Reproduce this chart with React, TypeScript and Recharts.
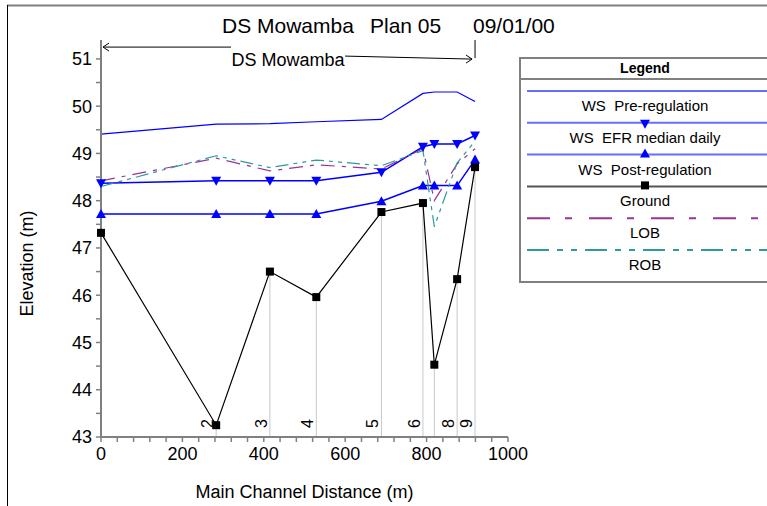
import { ComposedChart, Line, Scatter, XAxis, YAxis, ReferenceLine, Legend, Label } from 'recharts';

// river stations along the reach, upstream (0 m) to downstream
const stations = ['1', '2', '3', '4', '5', '6', '7', '8', '9'];
const stationTags = ['', '2', '3', '4', '5', '6', '', '8', '9'];
const distance = [0, 283, 415, 529, 689, 791, 819, 875, 919];

// elevations (m)
const wsPre = [49.41, 49.62, 49.63, 49.67, 49.72, 50.27, 50.3, 50.3, 50.1];
const wsEfr = [48.37, 48.42, 48.42, 48.42, 48.6, 49.14, 49.2, 49.2, 49.38];
const wsPost = [47.72, 47.72, 47.72, 47.72, 47.99, 48.32, 48.32, 48.32, 48.87];
const ground = [47.32, 43.25, 46.5, 45.96, 47.76, 47.95, 44.53, 46.34, 48.71];
const lob = [48.42, 48.9, 48.63, 48.76, 48.67, 49.1, 48.0, 48.78, 49.1];
const rob = [48.3, 48.95, 48.7, 48.86, 48.74, 49.06, 47.45, 48.8, 49.26];

const xTicks = [0, 40, 80, 120, 160, 200, 240, 280, 320, 360, 400, 440, 480, 520, 560, 600, 640, 680, 720, 760, 800, 840, 880, 920, 960, 1000];
const yTicks = [43, 43.5, 44, 44.5, 45, 45.5, 46, 46.5, 47, 47.5, 48, 48.5, 49, 49.5, 50, 50.5, 51];

const reachName = 'DS Mowamba';
const reachLevel = 51.25;

const FONT = '"Liberation Sans", Arial, Helvetica, sans-serif';
const BLUE = '#0000ff';
const LOB_COLOR = '#993399';
const ROB_COLOR = '#2e9b9b';
const AXIS = '#808080';

// legend rows in series order
const legendOrder = ['pre', 'efr', 'post', 'ground', 'lob', 'rob'];
const legendLook: Record<string, { mark: string; stroke: string; dash?: string }> = {
  pre: { mark: 'none', stroke: '#6b6bff' },
  efr: { mark: 'down', stroke: '#6b6bff' },
  post: { mark: 'up', stroke: '#6b6bff' },
  ground: { mark: 'square', stroke: '#555' },
  lob: { mark: 'none', stroke: LOB_COLOR, dash: '23 15 7 17' },
  rob: { mark: 'none', stroke: ROB_COLOR, dash: '22 8 6 8 6 8' },
};

const downTri = (cx: number, cy: number, key?: string) => (
  <polygon key={key} points={`${cx - 5},${cy - 4} ${cx + 5},${cy - 4} ${cx},${cy + 5}`} fill={BLUE} />
);
const upTri = (cx: number, cy: number, key?: string) => (
  <polygon key={key} points={`${cx - 5},${cy + 4} ${cx + 5},${cy + 4} ${cx},${cy - 5}`} fill={BLUE} />
);
const square = (cx: number, cy: number, key?: string) => (
  <rect key={key} x={cx - 4} y={cy - 4} width={8} height={8} fill="#000" />
);

const LegendBox = ({ payload }: any) => {
  const items = (payload || [])
    .filter((p: any) => p.type !== 'none' && legendLook[String(p.dataKey)])
    .sort((a: any, b: any) => legendOrder.indexOf(String(a.dataKey)) - legendOrder.indexOf(String(b.dataKey)));
  return (
    <svg width={248} height={226} style={{ display: 'block', fontFamily: FONT }}>
      <rect x={1} y={1} width={262} height={224} fill="#fff" stroke={AXIS} strokeWidth={2} />
      <text x={126} y={16} textAnchor="middle" fontSize={14} fontWeight="bold" fill="#000">Legend</text>
      <line x1={0} x2={248} y1={22} y2={22} stroke={AXIS} strokeWidth={2} />
      {items.map((it: any, i: number) => {
        const key = String(it.dataKey);
        const look = legendLook[key];
        const ly = 34 + i * 31.8;
        return (
          <g key={key}>
            <line x1={8} x2={248} y1={ly} y2={ly} stroke={look.stroke} strokeWidth={2} strokeDasharray={look.dash} />
            {look.mark === 'down' && downTri(126, ly + 1)}
            {look.mark === 'up' && upTri(126, ly - 1)}
            {look.mark === 'square' && square(126, ly - 1)}
            <text x={126} y={ly + 20} textAnchor="middle" fontSize={15} fill="#000" style={{ whiteSpace: 'pre' }}>
              {it.value}
            </text>
          </g>
        );
      })}
    </svg>
  );
};

// reach bracket with arrows and the reach name above the profile
const ReachBracket = (p: any) => {
  const { x1, y1, x2 } = p;
  const mid = (x1 + x2) / 2;
  return (
    <g stroke="#000" strokeWidth={1} fill="none">
      <line x1={x1 + 2} y1={y1} x2={mid - 57} y2={y1} />
      <polyline points={`${x1 + 8},${y1 - 4} ${x1 + 2},${y1} ${x1 + 8},${y1 + 4}`} />
      <line x1={mid + 57} y1={y1 + 9} x2={x2 - 3} y2={y1 + 12} />
      <polyline points={`${x2 - 9},${y1 + 8} ${x2 - 3},${y1 + 12} ${x2 - 9},${y1 + 16}`} />
      <line x1={x2} y1={y1 - 7} x2={x2} y2={y1 + 11} />
      <text x={mid} y={y1 + 19} textAnchor="middle" fontSize={18} fill="#000" stroke="none">{reachName}</text>
    </g>
  );
};

const StationTag = (p: any) => {
  const tag = p.payload?.tag;
  if (!tag) return <g />;
  const x = p.cx - 3;
  const y = p.cy - 9;
  return (
    <text x={x} y={y} transform={`rotate(-90 ${x} ${y})`} fontSize={16} fill="#000">{tag}</text>
  );
};

const XTitle = ({ viewBox }: any) => (
  <text x={viewBox.x + viewBox.width / 2} y={viewBox.y + 61} textAnchor="middle" fontSize={18} fill="#000">
    Main Channel Distance (m)
  </text>
);

const YTitle = ({ viewBox }: any) => {
  const cx = viewBox.x - 8;
  const cy = viewBox.y + viewBox.height / 2 + 25;
  return (
    <text x={cx} y={cy} transform={`rotate(-90 ${cx} ${cy})`} textAnchor="middle" fontSize={18} fill="#000">
      Elevation (m)
    </text>
  );
};

export default function App() {
  const rows = stations.map((s, i) => ({
    station: s,
    dist: distance[i],
    pre: wsPre[i],
    efr: wsEfr[i],
    post: wsPost[i],
    ground: ground[i],
    lob: lob[i],
    rob: rob[i],
  }));
  const tagRows = stations.map((s, i) => ({ station: s, dist: distance[i], base: 43, tag: stationTags[i] }));

  return (
    <div style={{ position: 'absolute', left: 0, top: 0, width: 767, height: 506, background: '#fff', fontFamily: FONT }}>
      <ComposedChart width={767} height={506} data={rows} margin={{ top: 40, right: 259, bottom: 39, left: 41 }}>
        <XAxis
          dataKey="dist"
          type="number"
          domain={[0, 1000]}
          ticks={xTicks}
          interval={0}
          tickFormatter={(v: number) => (v % 200 === 0 ? String(v) : '')}
          tick={{ fill: '#000', fontSize: 18 }}
          tickSize={5}
          tickMargin={5}
          height={30}
          axisLine={{ stroke: AXIS, strokeWidth: 2 }}
          tickLine={{ stroke: AXIS, strokeWidth: 1.5 }}
        >
          <Label content={XTitle} />
        </XAxis>
        <YAxis
          type="number"
          domain={[43, 51.4]}
          ticks={yTicks}
          interval={0}
          allowDataOverflow
          tickFormatter={(v: number) => (Number.isInteger(v) ? String(v) : '')}
          tick={{ fill: '#000', fontSize: 18 }}
          tickSize={5}
          tickMargin={4}
          width={60}
          axisLine={{ stroke: AXIS, strokeWidth: 2 }}
          tickLine={{ stroke: AXIS, strokeWidth: 1.5 }}
        >
          <Label content={YTitle} />
        </YAxis>

        {distance.map((d, i) => (
          <ReferenceLine
            key={`st-${stations[i]}`}
            segment={[{ x: d, y: 43 }, { x: d, y: ground[i] }]}
            stroke="#c8c8c8"
            strokeWidth={1}
          />
        ))}
        <ReferenceLine
          segment={[{ x: distance[0], y: reachLevel }, { x: distance[distance.length - 1], y: reachLevel }]}
          shape={ReachBracket}
        />

        <Line type="linear" dataKey="pre" name="WS  Pre-regulation" stroke={BLUE} strokeWidth={1.2} dot={false} isAnimationActive={false} />
        <Line
          type="linear"
          dataKey="efr"
          name="WS  EFR median daily"
          stroke={BLUE}
          strokeWidth={1.5}
          dot={(p: any) => downTri(p.cx, p.cy, `efr-${p.index}`)}
          activeDot={false}
          isAnimationActive={false}
        />
        <Line
          type="linear"
          dataKey="post"
          name="WS  Post-regulation"
          stroke={BLUE}
          strokeWidth={1.5}
          dot={(p: any) => upTri(p.cx, p.cy, `post-${p.index}`)}
          activeDot={false}
          isAnimationActive={false}
        />
        <Line
          type="linear"
          dataKey="ground"
          name="Ground"
          stroke="#000"
          strokeWidth={1.2}
          dot={(p: any) => square(p.cx, p.cy, `gr-${p.index}`)}
          activeDot={false}
          isAnimationActive={false}
        />
        <Line type="linear" dataKey="lob" name="LOB" stroke={LOB_COLOR} strokeWidth={1.2} strokeDasharray="14 7 4 7" dot={false} isAnimationActive={false} />
        <Line type="linear" dataKey="rob" name="ROB" stroke={ROB_COLOR} strokeWidth={1.2} strokeDasharray="13 5 4 5 4 5" dot={false} isAnimationActive={false} />

        <Scatter data={tagRows} dataKey="base" legendType="none" shape={StationTag} isAnimationActive={false} />

        <Legend
          content={LegendBox}
          layout="horizontal"
          align="center"
          verticalAlign="middle"
          wrapperStyle={{ left: 519, top: 57, width: 248, height: 226 }}
        />
      </ComposedChart>

      <svg width={767} height={506} style={{ position: 'absolute', left: 0, top: 0, pointerEvents: 'none' }}>
        <line x1={7} y1={5.5} x2={767} y2={5.5} stroke={AXIS} strokeWidth={2} />
        <line x1={7.5} y1={5} x2={7.5} y2={506} stroke="#000" strokeWidth={1} />
        <g fontSize={21} fill="#000" fontFamily={FONT}>
          <text x={222} y={33}>DS Mowamba</text>
          <text x={370} y={33}>Plan 05</text>
          <text x={473} y={33}>09/01/00</text>
        </g>
      </svg>
    </div>
  );
}
